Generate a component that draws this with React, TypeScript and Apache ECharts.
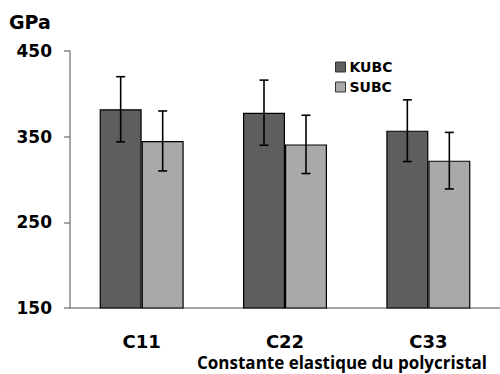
import React, { useEffect, useRef } from "react";
import * as echarts from "echarts";

const categories = ["C11", "C22", "C33"];
const kubcValues = [382, 378, 357];
const kubcErrors = [38, 38, 36];
const subcValues = [345, 341, 322];
const subcErrors = [35, 34, 33];
const yTicks = { min: 150, max: 450, interval: 100 };

const BAR_W = 42;

function errorSeries(name: string, values: number[], errors: number[], offset: number) {
  return {
    type: "custom",
    name: name + "-err",
    z: 10,
    data: values.map((v, i) => [i, v - errors[i], v + errors[i]]),
    renderItem: (params: any, api: any) => {
      const lo = api.coord([api.value(0), api.value(1)]);
      const hi = api.coord([api.value(0), api.value(2)]);
      const x = lo[0] + offset;
      const cap = 4.5;
      const style = { stroke: "#000", lineWidth: 1.6 };
      return {
        type: "group",
        children: [
          { type: "line", shape: { x1: x, y1: lo[1], x2: x, y2: hi[1] }, style },
          { type: "line", shape: { x1: x - cap, y1: lo[1], x2: x + cap, y2: lo[1] }, style },
          { type: "line", shape: { x1: x - cap, y1: hi[1], x2: x + cap, y2: hi[1] }, style },
        ],
      };
    },
    encode: { x: 0, y: [1, 2] },
    silent: true,
  };
}

export default function App() {
  const ref = useRef<HTMLDivElement>(null);
  useEffect(() => {
    if (!ref.current) return;
    const chart = echarts.init(ref.current, null, { renderer: "svg" });
    const bold = { fontFamily: "DejaVu Sans", fontWeight: "bold" as const };
    chart.setOption({
      animation: false,
      backgroundColor: "#fff",
      title: [
        {
          text: "GPa",
          left: 9,
          top: 12,
          padding: 0,
          textStyle: { ...bold, fontSize: 19, color: "#000" },
        },
        {
          text: "Constante elastique du polycristal",
          left: 197,
          top: 354,
          padding: 0,
          textStyle: { fontFamily: "Open Sans", fontWeight: "bold", fontSize: 17, color: "#000" },
        },
      ],
      legend: {
        orient: "vertical",
        left: 335,
        top: 60,
        padding: 0,
        itemWidth: 10,
        itemHeight: 10,
        itemGap: 6,
        icon: "rect",
        data: ["KUBC", "SUBC"],
        itemStyle: { borderColor: "#333", borderWidth: 1 },
        textStyle: { ...bold, fontSize: 14, color: "#000", padding: [0, 0, 0, -1] },
      },
      grid: { left: 70, top: 51, height: 257, width: 444 },
      xAxis: {
        type: "category",
        data: categories,
        axisLine: { lineStyle: { color: "#888", width: 1.5 } },
        axisTick: { lineStyle: { color: "#888", width: 1.5 }, length: 6 },
        axisLabel: { ...bold, fontSize: 18, color: "#000", margin: 24 },
      },
      yAxis: {
        type: "value",
        min: yTicks.min,
        max: yTicks.max,
        interval: yTicks.interval,
        splitLine: { show: false },
        axisLine: { show: true, lineStyle: { color: "#888", width: 1.5 } },
        axisTick: { show: true, lineStyle: { color: "#888", width: 1.5 }, length: 6 },
        axisLabel: { ...bold, fontSize: 17, color: "#000", margin: 18 },
      },
      series: [
        {
          type: "bar",
          name: "KUBC",
          data: kubcValues,
          barWidth: BAR_W,
          barGap: "0%",
          itemStyle: { color: "#5e5e5e", borderColor: "#000", borderWidth: 1.2 },
        },
        {
          type: "bar",
          name: "SUBC",
          data: subcValues,
          barWidth: BAR_W,
          barGap: "0%",
          itemStyle: { color: "#a9a9a9", borderColor: "#000", borderWidth: 1.2 },
        },
        errorSeries("KUBC", kubcValues, kubcErrors, -BAR_W / 2),
        errorSeries("SUBC", subcValues, subcErrors, BAR_W / 2),
      ],
    });
    return () => chart.dispose();
  }, []);
  return <div ref={ref} style={{ width: 500, height: 374, position: "absolute", left: 0, top: 0 }} />;
}
